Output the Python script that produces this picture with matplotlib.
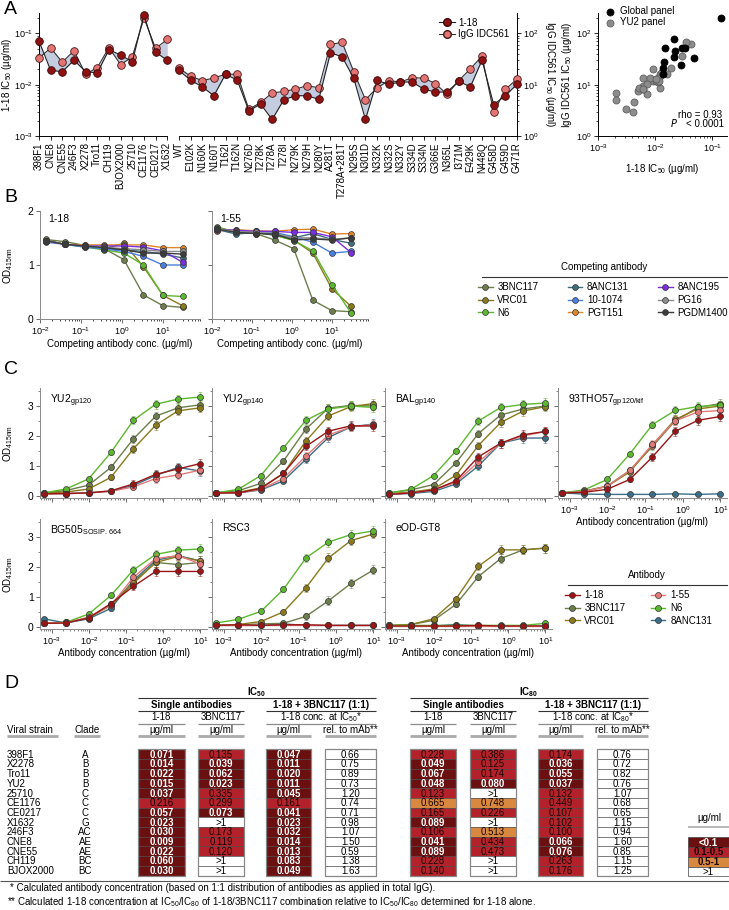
import numpy as np
import matplotlib
matplotlib.use("Agg")
import matplotlib.pyplot as plt
from matplotlib.lines import Line2D
from matplotlib.patches import Rectangle
from matplotlib.ticker import MultipleLocator

plt.rcParams['font.family'] = ['Liberation Sans', 'DejaVu Sans']
plt.rcParams['mathtext.default'] = 'regular'
plt.rcParams['font.size'] = 7
plt.rcParams['axes.linewidth'] = 0.7
for a in ('xtick', 'ytick'):
    plt.rcParams[a + '.major.size'] = 3
    plt.rcParams[a + '.minor.size'] = 1.5
    plt.rcParams[a + '.major.width'] = 0.6
    plt.rcParams[a + '.minor.width'] = 0.5
    plt.rcParams[a + '.major.pad'] = 1.5
    plt.rcParams[a + '.labelsize'] = 6.5

# ---------------- data: panel A ----------------
global_strains = ['398F1', 'CNE8', 'CNE55', '246F3', 'X2278', 'Tro11', 'CH119',
                  'BJOX2000', '25710', 'CE1176', 'CE0217', 'X1632']
global_118 = [0.071, 0.019, 0.018, 0.030, 0.018, 0.017, 0.048, 0.038, 0.028, 0.23, 0.043, 0.030]
global_igg = [33, 52, 27.5, 46, 16, 21.6, 53, 24.5, 35, 200, 51, 76.6]
# 1-18 values as placed in the correlation plot
scatter_global_118 = [0.047, 0.0146, 0.0143, 0.0224, 0.0135, 0.0135, 0.0335, 0.028,
                      0.0215, 0.14, 0.030, 0.0215]

yu2_mutants = ['WT', 'E102K', 'N160K', 'N160T', 'T162I', 'T162N', 'N276D', 'T278K', 'T278A',
               'T278I', 'N279K', 'N279H', 'N280Y', 'A281T', 'T278A+281T', 'N295S', 'N301D',
               'N332K', 'N332S', 'N332Y', 'S334D', 'S334N', 'G366E', 'N365L', 'I371M',
               'E429K', 'N448Q', 'G458D', 'G459D', 'G471R']
yu2_118 = [0.019, 0.0123, 0.0091, 0.0061, 0.016, 0.0123, 0.0031, 0.0042, 0.0021, 0.0051,
           0.0061, 0.0061, 0.0052, 0.042, 0.035, 0.0133, 0.0021, 0.0121, 0.0102, 0.0113,
           0.0113, 0.0082, 0.0072, 0.0072, 0.0116, 0.0091, 0.030, 0.0041, 0.0061, 0.0102]
yu2_igg = [21, 14.7, 12, 13.5, 16, 16, 3.3, 4.5, 6.9, 7.4, 8.2, 9.6, 8.7, 61, 67, 17.9,
           5.1, 8.7, 12, 11.3, 13.6, 13.5, 10.5, 6.5, 12, 20.4, 36, 2.9, 8.1, 12.9]

# ---------------- data: panel B ----------------
comp_names = ['3BNC117', 'VRC01', 'N6', '8ANC131', '10-1074', 'PGT151', '8ANC195', 'PG16', 'PGDM1400']
comp_colors = ['#6d7d4c', '#8a7a1c', '#5cb82e', '#3d6e80', '#4a7fe0', '#e0852a', '#7a2ee0',
               '#8c8c8c', '#3c3c3c']
comp_conc = [0.0137, 0.041, 0.123, 0.37, 1.11, 3.33, 10, 30]
b_od_118 = {
    '3BNC117': [1.47, 1.43, 1.36, 1.30, 1.10, 0.45, 0.25, 0.22],
    'VRC01': [1.45, 1.38, 1.35, 1.30, 1.40, 0.97, 0.44, 0.25],
    'N6': [1.45, 1.38, 1.33, 1.28, 1.22, 1.00, 0.44, 0.42],
    '8ANC131': [1.45, 1.38, 1.35, 1.30, 1.28, 1.25, 1.20, 1.13],
    '10-1074': [1.42, 1.38, 1.33, 1.30, 1.25, 1.16, 1.00, 1.00],
    'PGT151': [1.45, 1.38, 1.37, 1.37, 1.37, 1.37, 1.32, 1.32],
    '8ANC195': [1.45, 1.38, 1.35, 1.35, 1.35, 1.33, 1.26, 1.05],
    'PG16': [1.45, 1.38, 1.35, 1.33, 1.30, 1.28, 1.25, 1.25],
    'PGDM1400': [1.45, 1.38, 1.35, 1.32, 1.28, 1.22, 1.22, 1.20],
}
b_od_155 = {
    '3BNC117': [1.70, 1.60, 1.58, 1.46, 1.30, 0.35, 0.16, 0.14],
    'VRC01': [1.66, 1.62, 1.60, 1.55, 1.46, 1.22, 0.56, 0.24],
    'N6': [1.68, 1.62, 1.60, 1.55, 1.45, 1.26, 0.64, 0.12],
    '8ANC131': [1.65, 1.57, 1.60, 1.55, 1.50, 1.58, 1.47, 1.40],
    '10-1074': [1.64, 1.63, 1.62, 1.60, 1.52, 1.42, 1.22, 1.25],
    'PGT151': [1.63, 1.65, 1.63, 1.62, 1.65, 1.66, 1.57, 1.58],
    '8ANC195': [1.65, 1.64, 1.62, 1.62, 1.60, 1.60, 1.52, 1.23],
    'PG16': [1.66, 1.62, 1.60, 1.58, 1.50, 1.50, 1.47, 1.50],
    'PGDM1400': [1.66, 1.60, 1.58, 1.57, 1.46, 1.48, 1.46, 1.50],
}

# ---------------- data: panel C ----------------
c_names = ['1-18', '3BNC117', 'VRC01', '1-55', 'N6', '8ANC131']
c_colors = {'1-18': '#9a1616', '1-55': '#e27a7a', '3BNC117': '#6d7d4c',
            'N6': '#5cb82e', 'VRC01': '#8a7a1c', '8ANC131': '#3a6f87'}
c_conc = [0.00061, 0.0024, 0.0098, 0.039, 0.156, 0.625, 2.5, 10]
# typical SD of the replicate ELISA readings at each dilution step
c_sd = [0.03, 0.02, 0.04, 0.08, 0.13, 0.15, 0.15, 0.15]
c_yu2gp120 = {
    '1-18': [0.07, 0.08, 0.10, 0.17, 0.40, 0.72, 0.90, 1.08],
    '3BNC117': [0.10, 0.18, 0.36, 0.95, 1.90, 2.66, 2.94, 3.04],
    'VRC01': [0.10, 0.13, 0.23, 0.62, 1.57, 2.36, 2.84, 2.94],
    '1-55': [0.07, 0.07, 0.10, 0.15, 0.30, 0.58, 0.70, 0.86],
    'N6': [0.10, 0.23, 0.57, 1.45, 2.52, 3.06, 3.23, 3.30],
    '8ANC131': [0.07, 0.08, 0.10, 0.16, 0.35, 0.68, 0.95, 0.83],
}
c_yu2gp140 = {
    '1-18': [0.10, 0.10, 0.25, 0.75, 1.65, 2.16, 2.34, 2.33],
    '3BNC117': [0.10, 0.17, 0.42, 1.16, 2.23, 2.93, 3.02, 3.00],
    'VRC01': [0.10, 0.12, 0.27, 0.75, 1.83, 2.67, 2.98, 3.08],
    '1-55': [0.10, 0.10, 0.22, 0.58, 1.33, 2.03, 2.30, 2.38],
    'N6': [0.10, 0.22, 0.68, 1.60, 2.52, 2.90, 3.00, 2.95],
    '8ANC131': [0.10, 0.10, 0.20, 0.50, 1.22, 1.95, 2.30, 2.40],
}
c_bal = {
    '1-18': [0.05, 0.10, 0.20, 0.50, 1.30, 1.76, 2.04, 2.15],
    '3BNC117': [0.10, 0.20, 0.38, 1.10, 2.08, 2.70, 2.90, 3.00],
    'VRC01': [0.07, 0.13, 0.23, 0.69, 1.68, 2.45, 2.83, 2.98],
    '1-55': [0.05, 0.10, 0.20, 0.45, 1.13, 1.76, 2.00, 2.15],
    'N6': [0.10, 0.22, 0.68, 1.50, 2.50, 2.95, 3.05, 3.10],
    '8ANC131': [0.05, 0.08, 0.15, 0.40, 1.00, 1.76, 1.93, 1.93],
}
c_93tho57 = {
    '1-18': [0.10, 0.12, 0.22, 0.55, 1.30, 2.15, 2.52, 2.65],
    '3BNC117': [0.10, 0.16, 0.33, 0.85, 1.65, 2.50, 2.95, 3.08],
    'VRC01': [0.10, 0.15, 0.32, 0.80, 1.70, 2.55, 2.90, 3.00],
    '1-55': [0.10, 0.15, 0.32, 0.85, 1.72, 2.50, 2.80, 2.85],
    'N6': [0.10, 0.20, 0.55, 1.40, 2.38, 2.85, 2.98, 3.03],
    '8ANC131': [0.10, 0.06, 0.05, 0.05, 0.05, 0.07, 0.05, 0.07],
}
c_bg505 = {
    '1-18': [0.12, 0.13, 0.30, 0.78, 1.35, 1.85, 1.85, 1.85],
    '3BNC117': [0.12, 0.15, 0.30, 0.75, 1.50, 2.15, 2.08, 2.15],
    'VRC01': [0.12, 0.15, 0.30, 0.72, 1.45, 2.15, 2.35, 2.20],
    '1-55': [0.12, 0.13, 0.33, 0.72, 1.65, 2.28, 2.38, 2.10],
    'N6': [0.12, 0.15, 0.43, 1.05, 1.90, 2.42, 2.56, 2.60],
    '8ANC131': [0.27, 0.13, 0.27, 0.62, 1.55, 2.22, 2.38, 2.20],
}
c_rsc3 = {
    '1-18': [0.05, 0.07, 0.05, 0.07, 0.07, 0.05, 0.05, 0.05],
    '3BNC117': [0.05, 0.07, 0.10, 0.12, 0.35, 0.87, 1.45, 1.90],
    'VRC01': [0.05, 0.08, 0.18, 0.50, 1.30, 2.30, 2.88, 3.10],
    '1-55': [0.05, 0.05, 0.05, 0.05, 0.05, 0.05, 0.05, 0.05],
    'N6': [0.13, 0.25, 0.52, 1.25, 2.30, 2.83, 3.08, 3.20],
    '8ANC131': [0.05, 0.05, 0.05, 0.10, 0.05, 0.05, 0.05, 0.05],
}
c_eodgt8 = {
    '1-18': [0.03, 0.03, 0.03, 0.03, 0.05, 0.03, 0.03, 0.03],
    '3BNC117': [0.05, 0.08, 0.22, 0.75, 1.68, 2.28, 2.57, 2.63],
    'VRC01': [0.05, 0.08, 0.27, 0.93, 2.02, 2.57, 2.57, 2.63],
    '1-55': [0.03, 0.03, 0.03, 0.03, 0.03, 0.03, 0.03, 0.03],
    'N6': [0.05, 0.05, 0.05, 0.05, 0.05, 0.05, 0.05, 0.12],
    '8ANC131': [0.03, 0.03, 0.03, 0.08, 0.03, 0.03, 0.03, 0.03],
}

# ---------------- data: panel D ----------------
d_strains = ['398F1', 'X2278', 'Tro11', 'YU2', '25710', 'CE1176', 'CE0217', 'X1632',
             '246F3', 'CNE8', 'CNE55', 'CH119', 'BJOX2000']
d_clades = ['A', 'B', 'B', 'B', 'C', 'C', 'C', 'G', 'AC', 'AE', 'AE', 'BC', 'BC']
ic50_118 = [0.071, 0.014, 0.022, 0.015, 0.037, 0.216, 0.057, 0.023, 0.030, 0.009, 0.022, 0.060, 0.030]
ic50_3bnc = [0.135, 0.039, 0.062, 0.023, 0.335, 0.299, 0.073, None, 0.173, 0.119, 0.120, None, None]
ic50_mix = [0.047, 0.011, 0.020, 0.011, 0.045, 0.161, 0.041, 0.023, 0.032, 0.014, 0.013, 0.083, 0.049]
ic50_rel = [0.66, 0.75, 0.89, 0.73, 1.20, 0.74, 0.71, 0.98, 1.07, 1.50, 0.59, 1.38, 1.63]
ic80_118 = [0.228, 0.049, 0.067, 0.048, 0.123, 0.665, 0.165, 0.089, 0.106, 0.041, 0.089, 0.228, 0.140]
ic80_3bnc = [0.386, 0.125, 0.174, 0.080, None, 0.748, 0.226, None, 0.513, 0.434, 0.473, None, None]
ic80_mix = [0.174, 0.036, 0.055, 0.037, 0.132, 0.449, 0.107, 0.102, 0.100, 0.066, 0.076, 0.263, 0.176]
ic80_rel = [0.76, 0.72, 0.82, 0.76, 1.07, 0.68, 0.65, 1.15, 0.94, 1.60, 0.85, 1.15, 1.25]

W, H = 729, 910
fig = plt.figure(figsize=(W / 100, H / 100), dpi=100)


def add_ax(x0, y0, x1, y1):
    return fig.add_axes([x0 / W, 1 - y1 / H, (x1 - x0) / W, (y1 - y0) / H])


for letter, (lx, ly) in zip('ABCD', [(4, 10), (4, 198), (4, 370), (4, 683)]):
    fig.text(lx / W, 1 - ly / H, letter, fontsize=14, va='center', ha='left')

DARK, PINK = '#8e1212', '#e27474'

# ---------------- panel A (left) ----------------
axA = add_ax(39, 13, 517, 136)
xg = np.arange(len(global_strains))
xy = np.arange(len(global_strains), len(global_strains) + len(yu2_mutants))
for xs, a, b in [(xg, global_118, global_igg), (xy, yu2_118, yu2_igg)]:
    b = np.array(b) / 1000
    axA.fill_between(xs, a, b, color='#c4cde0', lw=0, zorder=1)
    axA.plot(xs, b, color='#333333', lw=0.8, marker='o', ms=5.5, mfc=PINK, mec='#4a1515',
             mew=0.6, zorder=3, clip_on=False)
    axA.plot(xs, a, color='#222222', lw=0.8, marker='o', ms=5.5, mfc=DARK, mec='#3a0a0a',
             mew=0.6, zorder=4, clip_on=False)
axA.set_yscale('log')
axA.set_ylim(1e-3, 0.25)
axA.set_xlim(0, len(xg) + len(xy) - 1)
axA.set_xticks(np.concatenate([xg, xy]))
axA.set_xticklabels(global_strains + yu2_mutants, rotation=90, fontsize=7)
axA.spines['top'].set_visible(False)
axA.spines['right'].set_visible(False)
axA.spines['bottom'].set_visible(False)
axA.plot([xg[0], xg[-1]], [1e-3, 1e-3], color='k', lw=0.7, clip_on=False)
axA.plot([xy[0], xy[-1]], [1e-3, 1e-3], color='k', lw=0.7, clip_on=False)
axA.set_ylabel('1-18 IC$_{50}$ (µg/ml)', fontsize=7, labelpad=0)
sec = axA.secondary_yaxis('right', functions=(lambda v: v * 1000, lambda v: v / 1000))
sec.set_ylabel('IgG IDC561 IC$_{50}$ (µg/ml)', fontsize=7, rotation=270, labelpad=13)
hA = [Line2D([], [], color='#222', lw=0.8, marker='o', ms=5.5, mfc=DARK, mec='#3a0a0a'),
      Line2D([], [], color='#333', lw=0.8, marker='o', ms=5.5, mfc=PINK, mec='#4a1515')]
axA.legend(hA, ['1-18', 'IgG IDC561'], loc='upper right', bbox_to_anchor=(0.995, 1.0),
           frameon=False, fontsize=7, handlelength=1.6, handletextpad=0.4,
           labelspacing=0.15, borderpad=0)

# ---------------- panel A (right scatter) ----------------
axS = add_ax(598, 13, 727, 136)
axS.scatter(yu2_118, yu2_igg, s=26, color='#8c8c8c', edgecolor='#555555', lw=0.5, zorder=3,
            label='YU2 panel')
axS.scatter(scatter_global_118, global_igg, s=26, color='black', edgecolor='black', lw=0.5,
            zorder=3, label='Global panel', clip_on=False)
axS.set_xscale('log')
axS.set_yscale('log')
axS.set_xlim(1e-3, 0.18)
axS.set_ylim(1, 250)
axS.spines['top'].set_visible(False)
axS.spines['right'].set_visible(False)
axS.set_xlabel('1-18 IC$_{50}$ (µg/ml)', fontsize=7, labelpad=6)
axS.set_ylabel('IgG IDC561 IC$_{50}$ (µg/ml)', fontsize=7, labelpad=2)
hs, ls = axS.get_legend_handles_labels()
axS.legend(hs[::-1], ls[::-1], loc='upper left', bbox_to_anchor=(0.0, 1.07), frameon=False,
           fontsize=7, handletextpad=0.1, labelspacing=0.1, borderpad=0, borderaxespad=0.2)
axS.text(0.62, 0.15, 'rho = 0.93', transform=axS.transAxes, fontsize=7)
axS.text(0.56, 0.07, '$\\it{P}$', transform=axS.transAxes, fontsize=7)
axS.text(0.68, 0.07, '< 0.0001', transform=axS.transAxes, fontsize=7)

# ---------------- panel B ----------------
GREYSP = '#8a8a8a'
b_axes = [add_ax(40, 210.7, 200, 319.3), add_ax(212, 210.7, 368, 319.3)]
for i, (ax, od, lab) in enumerate(zip(b_axes, [b_od_118, b_od_155], ['1-18', '1-55'])):
    for name, col in zip(comp_names, comp_colors):
        ax.plot(comp_conc, od[name], color=col, lw=1, marker='o', ms=4.2, mfc=col,
                mec='#333333', mew=0.5, clip_on=False)
    ax.set_xscale('log')
    ax.set_xlim(1e-2, 80)
    ax.set_ylim(0, 2)
    ax.set_yticks([0, 1, 2])
    ax.set_xticks([1e-2, 1e-1, 1, 10])
    for s in ('top', 'right'):
        ax.spines[s].set_visible(False)
    for s in ('left', 'bottom'):
        ax.spines[s].set_color(GREYSP)
    ax.tick_params(colors='#555555', labelcolor='black')
    ax.tick_params(axis='y', labelsize=7.5)
    ax.text(0.05, 0.97, lab, transform=ax.transAxes, fontsize=7.5, va='top')
    ax.set_xlabel('Competing antibody conc. (µg/ml)', fontsize=7, labelpad=1)
    if i == 0:
        ax.set_ylabel('OD$_{415nm}$', fontsize=7, labelpad=9)
    else:
        ax.set_yticklabels([])

fig.text(604 / W, 1 - 267 / H, 'Competing antibody', fontsize=7, ha='center', va='center')
fig.add_artist(Line2D([482 / W, 727 / W], [1 - 277 / H] * 2, color='#333333', lw=0.8))
hB = [Line2D([], [], color=c, lw=1, marker='o', ms=4.2, mfc=c, mec='#333', mew=0.5)
      for c in comp_colors]
fig.legend(hB, comp_names, loc='upper left', bbox_to_anchor=(478 / W, 1 - 282 / H), ncol=3,
           frameon=False, fontsize=7, handlelength=1.5, handletextpad=0.5,
           columnspacing=3.0, labelspacing=0.3, borderpad=0, borderaxespad=0)

# ---------------- panel C ----------------
c_panels = [
    ('YU2$_{gp120}$', c_yu2gp120, (40, 388, 207, 498)),
    ('YU2$_{gp140}$', c_yu2gp140, (212, 388, 380, 498)),
    ('BAL$_{gp140}$', c_bal, (385, 388, 552, 498)),
    ('93THO57$_{gp120/kif}$', c_93tho57, (558, 388, 727, 498)),
    ('BG505$_{SOSIP.664}$', c_bg505, (40, 519, 207, 629)),
    ('RSC3', c_rsc3, (212, 519, 380, 629)),
    ('eOD-GT8', c_eodgt8, (385, 519, 552, 629)),
]
draw_order = ['8ANC131', '3BNC117', 'VRC01', 'N6', '1-55', '1-18']
for k, (title, dd, box) in enumerate(c_panels):
    ax = add_ax(*box)
    for name in draw_order:
        col = c_colors[name]
        vals = np.array(dd[name])
        sd = np.where(vals > 0.3, c_sd, 0.015)
        ax.errorbar(c_conc, vals, yerr=sd, fmt='none', ecolor=col, elinewidth=0.7,
                    capsize=1.3, capthick=0.6, alpha=0.6, clip_on=False)
        ax.plot(c_conc, vals, color=col, lw=1, marker='o', ms=4.3, mfc=col,
                mec='#333333', mew=0.5, clip_on=False)
    ax.set_xscale('log')
    ax.set_xlim(4.8e-4, 15)
    ax.set_ylim(-0.07, 3.6)
    ax.set_yticks([0, 1, 2, 3])
    ax.yaxis.set_minor_locator(MultipleLocator(0.5))
    ax.set_xticks([1e-3, 1e-2, 1e-1, 1, 10])
    for s in ('top', 'right'):
        ax.spines[s].set_visible(False)
    for s in ('left', 'bottom'):
        ax.spines[s].set_color(GREYSP)
    ax.tick_params(which='both', colors='#555555', labelcolor='black')
    ax.tick_params(axis='y', labelsize=7.5)
    ax.text(0.06, 0.96, title, transform=ax.transAxes, fontsize=7.5, va='top')
    if k in (0, 4):
        ax.set_ylabel('OD$_{415nm}$', fontsize=7, labelpad=9)
    else:
        ax.set_yticklabels([])
    if k >= 3:
        ax.set_xlabel('Antibody concentration (µg/ml)', fontsize=7, labelpad=1)
    else:
        ax.set_xticklabels([])

fig.text(647 / W, 1 - 575 / H, 'Antibody', fontsize=7, ha='center', va='center')
fig.add_artist(Line2D([568 / W, 727 / W], [1 - 585 / H] * 2, color='#333333', lw=0.8))
hC = [Line2D([], [], color=c_colors[n], lw=1, marker='o', ms=4.3, mfc=c_colors[n],
             mec='#333', mew=0.5) for n in c_names]
fig.legend(hC, c_names, loc='upper left', bbox_to_anchor=(565 / W, 1 - 590 / H), ncol=2,
           frameon=False, fontsize=7, handlelength=1.5, handletextpad=0.5,
           columnspacing=2.6, labelspacing=0.3, borderpad=0, borderaxespad=0)

# ---------------- panel D (table) ----------------
tab = add_ax(0, 680, 729, 910)
tab.set_xlim(0, 729)
tab.set_ylim(910, 680)
tab.axis('off')

C_DARK, C_RED, C_ORANGE = '#6b1010', '#b3222a', '#d9883f'


def heat(v):
    if v is None:
        return 'white', 'black', '>1'
    if v < 0.1:
        return C_DARK, 'white', f'{v:.3f}'
    if v < 0.5:
        return C_RED, '#1a0505', f'{v:.3f}'
    return C_ORANGE, '#1a0505', f'{v:.3f}'


row0, rh = 749.5, 9.7
cols = [(161.5, 47, ic50_118, 'v'), (221, 46, ic50_3bnc, 'v'), (288.5, 45, ic50_mix, 'v'),
        (350.5, 51, ic50_rel, 'r'), (433, 46, ic80_118, 'v'), (493, 46, ic80_3bnc, 'v'),
        (560.5, 45, ic80_mix, 'v'), (622.5, 51, ic80_rel, 'r')]
for xc, w, vals, kind in cols:
    for i, v in enumerate(vals):
        y = row0 + i * rh
        if kind == 'v':
            fc, tc, txt = heat(v)
        else:
            fc, tc, txt = 'white', 'black', f'{v:.2f}'
        tab.add_patch(Rectangle((xc - w / 2, y), w, rh, facecolor=fc, edgecolor='#444444', lw=0.4))
        tab.text(xc, y + rh / 2 + 0.4, txt, ha='center', va='center', color=tc, fontsize=7,
                 fontweight='bold' if tc == 'white' else 'normal')
    tab.add_patch(Rectangle((xc - w / 2, row0), w, rh * len(vals), facecolor='none',
                            edgecolor='#888888', lw=0.9))

for i, (s, c) in enumerate(zip(d_strains, d_clades)):
    y = row0 + i * rh + rh / 2 + 0.4
    tab.text(7, y, s, ha='left', va='center', fontsize=7)
    tab.text(85, y, c, ha='center', va='center', fontsize=7)


def hline(x0, x1, y, color='#333333', lw=0.8):
    tab.plot([x0, x1], [y, y], color=color, lw=lw, solid_capstyle='butt')


for base, x0, x1, sub, mid in [(257, 138, 376, '50', 321), (529, 410, 648, '80', 593)]:
    tab.text(base, 692.5, f'IC$_{{{sub}}}$', ha='center', va='center', fontsize=7, fontweight='bold')
    hline(x0, x1, 698.5)
    tab.text((x0 + x0 + 106) / 2, 705, 'Single antibodies', ha='center', va='center',
             fontsize=7, fontweight='bold')
    hline(x0, x0 + 106, 711)
    tab.text(mid, 705, '1-18 + 3BNC117 (1:1)', ha='center', va='center', fontsize=7,
             fontweight='bold')
    hline(mid - 55, x1, 711)
    tab.text(mid, 717.5, f'1-18 conc. at IC$_{{{sub}}}$*', ha='center', va='center',
             fontsize=7)
    hline(mid - 55, x1, 724, color='#8a8a8a', lw=0.9)

for xc, w, vals, kind in cols:
    if kind == 'v':
        tab.text(xc, 730, 'µg/ml', ha='center', va='center', fontsize=7)
    else:
        tab.text(xc, 730, 'rel. to mAb**', ha='center', va='center', fontsize=7)
    hline(xc - w / 2, xc + w / 2, 736.5, color='#aaaaaa', lw=2)
for xc, w, lab in [(161.5, 47, '1-18'), (221, 46, '3BNC117'), (433, 46, '1-18'), (493, 46, '3BNC117')]:
    tab.text(xc, 717.5, lab, ha='center', va='center', fontsize=7)
    hline(xc - w / 2, xc + w / 2, 724, color='#8a8a8a', lw=0.9)

tab.text(7, 730, 'Viral strain', ha='left', va='center', fontsize=7)
hline(7, 58, 736.5, color='#aaaaaa', lw=2)
tab.text(87, 730, 'Clade', ha='center', va='center', fontsize=7)
hline(74, 100, 736.5, color='#aaaaaa', lw=2)

# colour key
tab.text(709, 818, 'µg/ml', ha='center', va='center', fontsize=7)
hline(688, 729, 827, color='#aaaaaa', lw=1.2)
key = [('<0.1', C_DARK, 'white'), ('0.1-0.5', C_RED, '#1a0505'),
       ('0.5-1', C_ORANGE, '#1a0505'), ('>1', 'white', 'black')]
for i, (lab, fc, tc) in enumerate(key):
    y = 837.5 + i * rh
    tab.add_patch(Rectangle((688, y), 41, rh, facecolor=fc, edgecolor='#444444', lw=0.5))
    tab.text(708.5, y + rh / 2 + 0.4, lab, ha='center', va='center', fontsize=7, color=tc,
             fontweight='bold' if tc != 'black' else 'normal')

hline(0, 729, 881, color='#555555', lw=0.8)
tab.text(10, 888.5, '* Calculated antibody concentration (based on 1:1 distribution of '
         'antibodies as applied in total IgG).', ha='left', va='center', fontsize=7)
tab.text(7, 902.5, '** Calculated 1-18 concentration at IC$_{50}$/IC$_{80}$ of 1-18/3BNC117 '
         'combination relative to IC$_{50}$/IC$_{80}$ determined for 1-18 alone.',
         ha='left', va='center', fontsize=7)

fig.savefig('out.png', dpi=100)
